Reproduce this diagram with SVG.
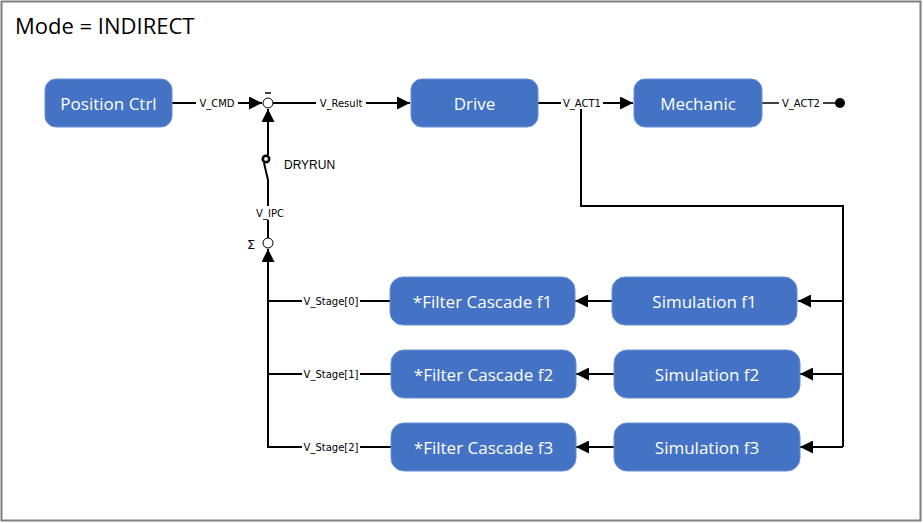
<svg xmlns="http://www.w3.org/2000/svg" width="923" height="523" viewBox="0 0 923 523">
  <style>
    .box { fill: #4472C4; stroke: #6a8fd4; stroke-width: 1; }
    .lbl { fill: #ffffff; font-family: "Open Sans", "Noto Sans", sans-serif; font-size: 17px; text-anchor: middle; dominant-baseline: central; }
    .wire { fill: none; stroke: #000; stroke-width: 2; }
    .thin { fill: none; stroke: #000; stroke-width: 1.5; }
    .sig { font-family: "DejaVu Sans", "Liberation Sans", sans-serif; font-size: 10px; fill: #000; text-anchor: middle; dominant-baseline: central; }
    .sigbg { fill: #ffffff; }
  </style>
  <defs>
    <marker id="arrow" viewBox="0 0 10 10" refX="10" refY="5" markerWidth="6.5" markerHeight="6.5" orient="auto" markerUnits="strokeWidth">
      <path d="M0,0 L10,5 L0,10 z" fill="#000"/>
    </marker>
  </defs>

  <!-- frame -->
  <rect x="1.5" y="1.5" width="919" height="519" fill="#fff" stroke="#7f7f7f" stroke-width="2"/>
  <text x="15" y="34" font-family="Open Sans, Noto Sans, sans-serif" font-size="22" fill="#000">Mode = INDIRECT</text>

  <!-- connectors -->
  <g id="connectors">
    <!-- Position Ctrl -> summing point -->
    <line class="wire" x1="172" y1="103" x2="262" y2="103" marker-end="url(#arrow)"/>
    <!-- summing point -> Drive -->
    <line class="wire" x1="273" y1="103" x2="410" y2="103" marker-end="url(#arrow)"/>
    <!-- Drive -> Mechanic -->
    <line class="wire" x1="538" y1="103" x2="633" y2="103" marker-end="url(#arrow)"/>
    <!-- Mechanic -> output -->
    <line class="thin" x1="762" y1="103" x2="840" y2="103"/>
    <circle cx="840" cy="103" r="5" fill="#000"/>
    <!-- feedback from V_ACT1 to simulations -->
    <polyline class="wire" points="581,103 581,206 843,206 843,447"/>
    <line class="wire" x1="843" y1="301" x2="798" y2="301" marker-end="url(#arrow)"/>
    <line class="wire" x1="843" y1="374" x2="800" y2="374" marker-end="url(#arrow)"/>
    <line class="wire" x1="843" y1="447" x2="800" y2="447" marker-end="url(#arrow)"/>
    <!-- Simulation -> Filter -->
    <line class="wire" x1="612" y1="301" x2="575" y2="301" marker-end="url(#arrow)"/>
    <line class="wire" x1="614" y1="374" x2="576" y2="374" marker-end="url(#arrow)"/>
    <line class="wire" x1="614" y1="447" x2="576" y2="447" marker-end="url(#arrow)"/>
    <!-- Filter stages -> sum -->
    <line class="wire" x1="390" y1="301" x2="267" y2="301"/>
    <line class="wire" x1="391" y1="374" x2="267" y2="374"/>
    <line class="wire" x1="391" y1="447" x2="267" y2="447"/>
    <line class="wire" x1="268" y1="448" x2="268" y2="249" marker-end="url(#arrow)"/>
    <!-- sum -> switch -> summing point -->
    <line class="wire" x1="268" y1="238" x2="268" y2="180"/>
    <line class="wire" x1="268" y1="180" x2="264" y2="163"/>
    <circle cx="266" cy="159" r="3.2" fill="none" stroke="#000" stroke-width="2.6"/>
    <line class="wire" x1="268" y1="155" x2="268" y2="109" marker-end="url(#arrow)"/>

    <!-- signal labels -->
    <rect class="sigbg" x="196" y="96" width="42" height="13"/>
    <text class="sig" x="217" y="103">V_CMD</text>
    <rect class="sigbg" x="316" y="96" width="50" height="13"/>
    <text class="sig" x="341" y="103">V_Result</text>
    <rect class="sigbg" x="561" y="96" width="42" height="13"/>
    <text class="sig" x="582" y="103">V_ACT1</text>
    <rect class="sigbg" x="779" y="96" width="44" height="13"/>
    <text class="sig" x="801" y="103">V_ACT2</text>
    <rect class="sigbg" x="253" y="206" width="32" height="14"/>
    <text class="sig" x="270" y="213">V_IPC</text>
    <rect class="sigbg" x="302" y="294" width="58" height="14"/>
    <text class="sig" x="331" y="301">V_Stage[0]</text>
    <rect class="sigbg" x="302" y="367" width="58" height="14"/>
    <text class="sig" x="331" y="374">V_Stage[1]</text>
    <rect class="sigbg" x="302" y="440" width="58" height="14"/>
    <text class="sig" x="331" y="447">V_Stage[2]</text>
    <text x="284" y="165" font-family="Liberation Sans, sans-serif" font-size="12" fill="#000" dominant-baseline="central">DRYRUN</text>
  </g>

  <!-- summing junctions -->
  <g id="sum_cmd">
    <circle cx="268" cy="103" r="5" fill="#fff" stroke="#000" stroke-width="1"/>
    <line x1="265" y1="93" x2="271" y2="93" stroke="#000" stroke-width="1.5"/>
  </g>
  <g id="sum_stage">
    <circle cx="268" cy="243" r="5" fill="#fff" stroke="#000" stroke-width="1"/>
    <text x="251" y="244" font-family="DejaVu Sans, sans-serif" font-size="13" fill="#000" text-anchor="middle" dominant-baseline="central">Σ</text>
  </g>

  <!-- nodes -->
  <g id="position_ctrl">
    <rect class="box" x="45" y="79" width="127" height="48" rx="11"/>
    <text class="lbl" x="108.5" y="103">Position Ctrl</text>
  </g>
  <g id="drive">
    <rect class="box" x="411" y="79" width="127" height="48" rx="11"/>
    <text class="lbl" x="474.5" y="103">Drive</text>
  </g>
  <g id="mechanic">
    <rect class="box" x="634" y="79" width="128" height="48" rx="11"/>
    <text class="lbl" x="698" y="103">Mechanic</text>
  </g>
  <g id="filter_f1">
    <rect class="box" x="390" y="277" width="185" height="48" rx="13"/>
    <text class="lbl" x="482.5" y="301">*Filter Cascade f1</text>
  </g>
  <g id="filter_f2">
    <rect class="box" x="391" y="350" width="185" height="48" rx="13"/>
    <text class="lbl" x="483.5" y="374">*Filter Cascade f2</text>
  </g>
  <g id="filter_f3">
    <rect class="box" x="391" y="423" width="185" height="48" rx="13"/>
    <text class="lbl" x="483.5" y="447">*Filter Cascade f3</text>
  </g>
  <g id="simulation_f1">
    <rect class="box" x="612" y="277" width="185" height="48" rx="13"/>
    <text class="lbl" x="704.5" y="301">Simulation f1</text>
  </g>
  <g id="simulation_f2">
    <rect class="box" x="614" y="350" width="186" height="48" rx="13"/>
    <text class="lbl" x="707" y="374">Simulation f2</text>
  </g>
  <g id="simulation_f3">
    <rect class="box" x="614" y="423" width="186" height="48" rx="13"/>
    <text class="lbl" x="707" y="447">Simulation f3</text>
  </g>
</svg>
